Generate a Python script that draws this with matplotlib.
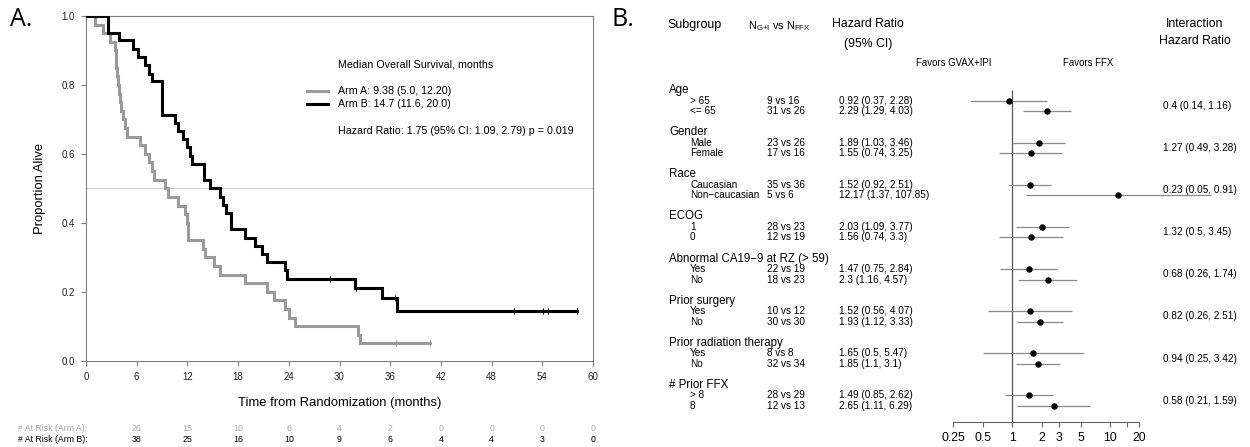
import numpy as np
import matplotlib.pyplot as plt
from matplotlib import transforms
from matplotlib.ticker import NullLocator

plt.rcParams['font.family'] = ['Liberation Sans', 'DejaVu Sans']
plt.rcParams['mathtext.default'] = 'regular'

# ---- panel A: Kaplan-Meier data ----
arm_a_times = [0, 1.1, 2.0, 2.8, 3.4, 3.5, 3.6, 3.7, 3.8, 3.9, 4.0, 4.2, 4.4, 4.6, 4.8,
               6.4, 7.0, 7.4, 7.8, 8.0, 9.4, 9.7, 10.9, 11.7, 11.9, 12.1, 13.9, 14.1,
               15.1, 15.9, 18.8, 21.4, 22.2, 23.6, 24.0, 24.7, 32.2, 32.4]
arm_a_surv = [1.0, .975, .95, .925, .9, .875, .85, .825, .8, .775, .75, .725, .7, .675, .65,
              .625, .6, .575, .55, .525, .5, .475, .45, .425, .4, .35, .325, .3,
              .275, .25, .225, .2, .175, .15, .125, .1, .075, .05]
arm_a_end = 40.7
arm_a_censor = [36.7, 40.7]

arm_b_times = [0, 2.6, 3.9, 5.6, 6.2, 7.0, 7.4, 7.8, 9.0, 10.5, 10.9, 11.5, 11.9, 12.3,
               12.5, 14.0, 14.7, 15.9, 16.2, 16.6, 17.2, 18.8, 20.0, 20.8, 21.4, 23.55,
               23.8, 31.8, 35.0, 36.8]
arm_b_surv = [1.0, .952, .929, .905, .881, .857, .833, .810, .714, .690, .667, .643, .619,
              .595, .571, .524, .500, .476, .452, .429, .381, .357, .333, .310, .286, .262,
              .238, .212, .181, .145]
arm_b_end = 58.1
arm_b_censor = [28.9, 32.0, 36.6, 50.6, 54.1, 54.7, 58.1]

risk_times = [6, 12, 18, 24, 30, 36, 42, 48, 54, 60]
risk_a = [26, 15, 10, 6, 4, 2, 0, 0, 0, 0]
risk_b = [38, 25, 16, 10, 9, 6, 4, 4, 3, 0]

# ---- panel B: forest plot data ----
groups = ["Age", "Gender", "Race", "ECOG", "Abnormal CA19\u22129 at RZ (> 59)",
          "Prior surgery", "Prior radiation therapy", "# Prior FFX"]
sub_labels = [["> 65", "<= 65"], ["Male", "Female"], ["Caucasian", "Non\u2212caucasian"],
              ["1", "0"], ["Yes", "No"], ["Yes", "No"], ["Yes", "No"], ["> 8", "8"]]
n_gi = [[9, 31], [23, 17], [35, 5], [28, 12], [22, 18], [10, 30], [8, 32], [28, 12]]
n_ffx = [[16, 26], [26, 16], [36, 6], [23, 19], [19, 23], [12, 30], [8, 34], [29, 13]]
hr = [[0.92, 2.29], [1.89, 1.55], [1.52, 12.17], [2.03, 1.56], [1.47, 2.3],
      [1.52, 1.93], [1.65, 1.85], [1.49, 2.65]]
hr_lo = [[0.37, 1.29], [1.03, 0.74], [0.92, 1.37], [1.09, 0.74], [0.75, 1.16],
         [0.56, 1.12], [0.5, 1.1], [0.85, 1.11]]
hr_hi = [[2.28, 4.03], [3.46, 3.25], [2.51, 107.85], [3.77, 3.3], [2.84, 4.57],
         [4.07, 3.33], [5.47, 3.1], [2.62, 6.29]]
int_hr = [0.4, 1.27, 0.23, 1.32, 0.68, 0.82, 0.94, 0.58]
int_lo = [0.14, 0.49, 0.05, 0.5, 0.26, 0.26, 0.25, 0.21]
int_hi = [1.16, 3.28, 0.91, 3.45, 1.74, 2.51, 3.42, 1.59]
forest_ticks = [0.25, 0.5, 1, 2, 3, 5, 10, 15, 20]
forest_ticklabels = ["0.25", "0.5", "1", "2", "3", "5", "10", "", "20"]

W, H = 1250, 447
fig = plt.figure(figsize=(W / 100, H / 100), dpi=100)


def px_axes(left, top, right, bottom):
    return fig.add_axes([left / W, 1 - bottom / H, (right - left) / W, (bottom - top) / H])


gray = "#9a9a9a"
frame = "#808080"

# ================= Panel A =================
ax = px_axes(86, 16, 593, 360.7)
ax.axhline(0.5, color="#cfcfcf", lw=0.8, zorder=1)

for times, surv, end, cens, col in [
        (arm_a_times, arm_a_surv, arm_a_end, arm_a_censor, gray),
        (arm_b_times, arm_b_surv, arm_b_end, arm_b_censor, "black")]:
    ax.step(list(times) + [end], list(surv) + [surv[-1]], where="post",
            color=col, lw=2.2, solid_joinstyle="miter", zorder=3)
    idx = np.searchsorted(times, cens, side="right") - 1
    ax.plot(cens, np.array(surv)[idx], ls="none", marker="|", ms=5, mew=0.8,
            color=col, zorder=4)

ax.set_xlim(0, 60)
ax.set_ylim(0, 1)
ax.set_xticks(np.arange(0, 61, 6))
ax.set_yticks(np.arange(0, 1.01, 0.2))
ax.yaxis.set_major_formatter(plt.FormatStrFormatter("%.1f"))
for s in ax.spines.values():
    s.set_color(frame)
    s.set_linewidth(0.8)
ax.tick_params(labelsize=7.0, length=3.6, width=0.8, color=frame, pad=4.5,
               labelcolor="#222222")

ax.set_xlabel("Time from Randomization (months)", fontsize=9.4)
ax.xaxis.label.set_verticalalignment("center")
ax.xaxis.set_label_coords(0.5, (360.7 - 403.3) / 344.7)
ax.set_ylabel("Proportion Alive", fontsize=9.4)
ax.yaxis.label.set_verticalalignment("center")
ax.yaxis.set_label_coords((40 - 86) / 507, 0.5)

# legend block
leg_fs = 7.7
ax.text(0.497, 0.860, "Median Overall Survival, months", fontsize=leg_fs,
        transform=ax.transAxes, va="center")
ax.plot([0.436, 0.477], [0.783, 0.783], color=gray, lw=2.2, transform=ax.transAxes)
ax.plot([0.436, 0.477], [0.744, 0.744], color="black", lw=2.2, transform=ax.transAxes)
ax.text(0.497, 0.783, "Arm A: 9.38 (5.0, 12.20)", fontsize=leg_fs,
        transform=ax.transAxes, va="center")
ax.text(0.497, 0.744, "Arm B: 14.7 (11.6, 20.0)", fontsize=leg_fs,
        transform=ax.transAxes, va="center")
ax.text(0.497, 0.667, "Hazard Ratio: 1.75 (95% CI: 1.09, 2.79) p = 0.019", fontsize=leg_fs,
        transform=ax.transAxes, va="center")

# numbers at risk
risk_fs = 6.3
risk_tr = transforms.blended_transform_factory(ax.transData, fig.transFigure)
fig.text(18 / W, 1 - 428.3 / H, "# At Risk (Arm A):", fontsize=risk_fs, color="#a8a8a8",
         va="center")
fig.text(18 / W, 1 - 439 / H, "# At Risk (Arm B):", fontsize=risk_fs, color="black",
         va="center")
for t, a, b in zip(risk_times, risk_a, risk_b):
    ax.text(t, 1 - 428.3 / H, str(a), transform=risk_tr, fontsize=risk_fs, color="#a8a8a8",
            ha="center", va="center", clip_on=False)
    ax.text(t, 1 - 439 / H, str(b), transform=risk_tr, fontsize=risk_fs, color="black",
            ha="center", va="center", clip_on=False)

fig.text(10 / W, 1 - 19 / H, "A.", fontsize=18, va="center", family="Open Sans")
fig.text(612 / W, 1 - 19 / H, "B.", fontsize=18, va="center", family="Open Sans")

# ================= Panel B =================
fx = px_axes(953.3, 79.5, 1139.4, 421.7)
fx.set_xscale("log")
fx.set_xlim(0.25, 20)
fx.set_ylim(31.49, -1)
tr = transforms.blended_transform_factory(fig.transFigure, fx.transData)

fx.vlines(1, 0, 31.49, color="#555555", lw=0.9)
for g, name in enumerate(groups):
    r0 = 4 * g
    fig.text(669 / W, r0, name, transform=tr, fontsize=8.3, va="center")
    for k in range(2):
        r = r0 + 1 + k
        fig.text(690 / W, r, sub_labels[g][k], transform=tr, fontsize=7.2, va="center")
        fig.text(767 / W, r, f"{n_gi[g][k]} vs {n_ffx[g][k]}", transform=tr,
                 fontsize=7.2, va="center")
        fig.text(839 / W, r, f"{hr[g][k]} ({hr_lo[g][k]}, {hr_hi[g][k]})", transform=tr,
                 fontsize=7.2, va="center")
        fx.hlines(r, hr_lo[g][k], hr_hi[g][k], color="#8a8a8a", lw=0.9, clip_on=False)
        fx.plot(hr[g][k], r, "o", color="black", ms=3.6, clip_on=False, zorder=4)
    fig.text(1163 / W, r0 + 1.5, f"{int_hr[g]} ({int_lo[g]}, {int_hi[g]})", transform=tr,
             fontsize=7.2, va="center")

fx.set_xticks(forest_ticks)
fx.set_xticklabels(forest_ticklabels)
fx.xaxis.set_minor_locator(NullLocator())
fx.set_yticks([])
for side in ["left", "top", "right"]:
    fx.spines[side].set_visible(False)
fx.spines["bottom"].set_bounds(0.25, 20)
fx.spines["bottom"].set_color("#666666")
fx.spines["bottom"].set_linewidth(0.8)
fx.tick_params(axis="x", labelsize=8.8, length=3.6, width=0.8, color="#666666", pad=3.5)
fx.patch.set_visible(False)

# headers
fig.text(667 / W, 1 - 25 / H, "Subgroup", fontsize=9, va="center")
fig.text(748 / W, 1 - 26 / H, "N$_{G{+}I}$ vs N$_{FFX}$", fontsize=7.9, va="center")
fig.text(868 / W, 1 - 24 / H, "Hazard Ratio", fontsize=8.8, va="center", ha="center")
fig.text(868 / W, 1 - 43.5 / H, "(95% CI)", fontsize=8.8, va="center", ha="center")
fig.text(1195 / W, 1 - 24 / H, "Interaction", fontsize=8.8, va="center", ha="center")
fig.text(1195 / W, 1 - 41 / H, "Hazard Ratio", fontsize=8.8, va="center", ha="center")
fig.text(991 / W, 1 - 63 / H, "Favors GVAX+IPI", fontsize=6.9, va="center", ha="right")
fig.text(1063 / W, 1 - 63 / H, "Favors FFX", fontsize=6.9, va="center")

fig.savefig("out.png", dpi=100)
